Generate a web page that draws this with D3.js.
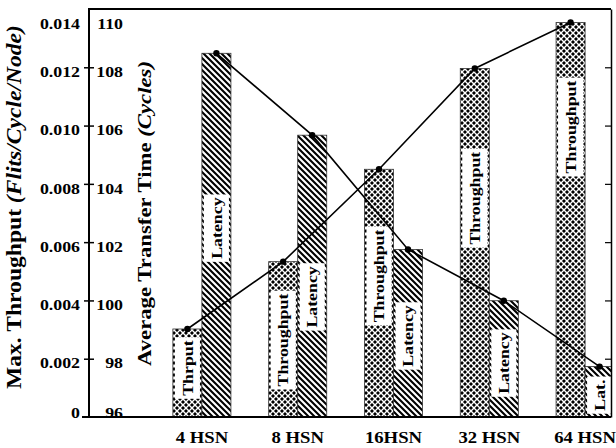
<!DOCTYPE html>
<html>
<head>
<meta charset="utf-8">
<script src="https://cdn.jsdelivr.net/npm/d3@7/dist/d3.min.js"></script>
<style>
  body { margin: 0; background: #fff; }
  svg { display: block; }
  text { font-family: "Liberation Serif", "Times New Roman", Times, serif; font-weight: bold; fill: #000; }
</style>
</head>
<body>
<svg id="chart" width="616" height="448"></svg>
<script>
// ---- data ----
const categories = ["4 HSN", "8 HSN", "16HSN", "32 HSN", "64 HSN"];
const throughput = [0.00302, 0.00533, 0.0085, 0.01196, 0.01354];   // flits/cycle/node
const latency = [108.48, 105.67, 101.75, 99.99, 97.73];             // cycles
const throughputCaptions = ["Thrput", "Throughput", "Throughput", "Throughput", "Throughput"];
const latencyCaptions = ["Latency", "Latency", "Latency", "Latency", "Lat."];
const throughputTicks = [0, 0.002, 0.004, 0.006, 0.008, 0.010, 0.012, 0.014];
const throughputTickLabels = ["0", "0.002", "0.004", "0.006", "0.008", "0.010", "0.012", "0.014"];
const latencyTicks = [96, 98, 100, 102, 104, 106, 108, 110];
const latencyTickLabels = ["96", "98", "100", "102", "104", "106", "108", "110"];
// centre of each in-bar caption, in the units of its own axis
const throughputCaptionAt = [0.00168, 0.00264, 0.00484, 0.00751, 0.00995];
const latencyCaptionAt = [102.48, 100.12, 98.78, 97.85, 96.75];

// ---- layout ----
const X0 = 89, X1 = 611, Y0 = 417, YT = 9;
const svg = d3.select("#chart");

const yT = d3.scaleLinear().domain([0, 0.014]).range([Y0, YT]);
const yL = d3.scaleLinear().domain([96, 110]).range([Y0, YT]);
const x0 = d3.scaleBand().domain(categories).range([154, 633]).paddingInner(0.394).paddingOuter(0.197);
const x1 = d3.scaleBand().domain(["thr", "lat"]).range([0, x0.bandwidth()]);

// widen glyph runs slightly, as the chart's typeface sets wide
function stretch(sel, k) {
  sel.each(function () {
    const w = this.getComputedTextLength();
    this.setAttribute("textLength", w * k);
    this.setAttribute("lengthAdjust", "spacingAndGlyphs");
  });
}

// ---- fill patterns ----
const defs = svg.append("defs");
const weave = defs.append("pattern").attr("id", "weave")
  .attr("width", 6).attr("height", 6).attr("patternUnits", "userSpaceOnUse");
weave.append("rect").attr("width", 6).attr("height", 6).attr("fill", "#000");
weave.append("path").attr("d", "M-1,-1L7,7M-1,5L1,7M5,-1L7,1")
  .attr("stroke", "#fff").attr("stroke-width", 1.4);
weave.append("path").attr("d", "M-1,7L7,-1M-1,1L1,-1M5,7L7,5")
  .attr("stroke", "#fff").attr("stroke-width", 1.4);

const stripes = defs.append("pattern").attr("id", "stripes")
  .attr("width", 6).attr("height", 6).attr("patternUnits", "userSpaceOnUse");
stripes.append("rect").attr("width", 6).attr("height", 6).attr("fill", "#fff");
stripes.append("path").attr("d", "M-1,-1L7,7M-1,5L1,7M5,-1L7,1")
  .attr("stroke", "#000").attr("stroke-width", 2.1);

defs.append("clipPath").attr("id", "plot-clip")
  .append("rect").attr("x", X0).attr("y", YT).attr("width", X1 - X0).attr("height", Y0 - YT);

const plot = svg.append("g").attr("clip-path", "url(#plot-clip)");

// ---- bars ----
const rows = categories.map((c, i) => ({
  c, thr: throughput[i], lat: latency[i],
  thrCap: throughputCaptions[i], latCap: latencyCaptions[i],
  thrAt: throughputCaptionAt[i], latAt: latencyCaptionAt[i]
}));

const bw = x1.bandwidth();
const thrX = d => x0(d.c) + x1("thr");
const latX = d => x0(d.c) + x1("lat");

plot.selectAll("rect.thr").data(rows).join("rect").attr("class", "thr")
  .attr("x", thrX).attr("width", bw)
  .attr("y", d => yT(d.thr)).attr("height", d => Y0 - yT(d.thr))
  .attr("fill", "url(#weave)").attr("stroke", "#333").attr("stroke-width", 0.8);

plot.selectAll("rect.lat").data(rows).join("rect").attr("class", "lat")
  .attr("x", latX).attr("width", bw)
  .attr("y", d => yL(d.lat)).attr("height", d => Y0 - yL(d.lat))
  .attr("fill", "url(#stripes)").attr("stroke", "#333").attr("stroke-width", 0.8);

// ---- captions inside bars ----
function caption(text, cx, cy) {
  const g = plot.append("g").attr("transform", `translate(${cx},${cy}) rotate(-90)`);
  const box = g.append("rect").attr("fill", "#fff");
  const t = g.append("text").attr("text-anchor", "middle").attr("dy", "0.34em")
    .style("font-size", "15.5px").text(text);
  stretch(t, 1.15);
  const len = +t.attr("textLength");
  box.attr("x", -len / 2 - 3).attr("width", len + 6)
    .attr("y", -(bw - 4) / 2).attr("height", bw - 4);
}
rows.forEach(d => {
  caption(d.thrCap, thrX(d) + bw / 2, yT(d.thrAt));
  caption(d.latCap, latX(d) + bw / 2, yL(d.latAt));
});

// ---- lines with markers ----
const thrLine = d3.line().x(d => thrX(d) + bw / 2).y(d => yT(d.thr));
const latLine = d3.line().x(d => latX(d) + bw / 2).y(d => yL(d.lat));
plot.append("path").attr("d", thrLine(rows)).attr("fill", "none").attr("stroke", "#000").attr("stroke-width", 1.6);
plot.append("path").attr("d", latLine(rows)).attr("fill", "none").attr("stroke", "#000").attr("stroke-width", 1.6);
plot.selectAll("circle.thr").data(rows).join("circle").attr("class", "thr")
  .attr("cx", d => thrX(d) + bw / 2).attr("cy", d => yT(d.thr)).attr("r", 3.2).attr("fill", "#000");
plot.selectAll("circle.lat").data(rows).join("circle").attr("class", "lat")
  .attr("cx", d => latX(d) + bw / 2).attr("cy", d => yL(d.lat)).attr("r", 3.2).attr("fill", "#000");

// ---- frame ----
svg.append("line").attr("x1", X0 - 1).attr("x2", X1).attr("y1", YT).attr("y2", YT)
  .attr("stroke", "#000").attr("stroke-width", 2);
svg.append("line").attr("x1", X0 - 7).attr("x2", X1).attr("y1", Y0).attr("y2", Y0)
  .attr("stroke", "#000").attr("stroke-width", 2);
svg.append("line").attr("x1", X0).attr("x2", X0).attr("y1", YT).attr("y2", Y0)
  .attr("stroke", "#000").attr("stroke-width", 2);

const labelY = v => Math.min(Math.max(v + 4, 23), 412);

// left axis: throughput labels, crossing ticks
const gT = svg.append("g").attr("transform", `translate(${X0},0)`)
  .call(d3.axisLeft(yT).tickValues(throughputTicks)
    .tickFormat((d, i) => throughputTickLabels[i]).tickSizeInner(5).tickSizeOuter(0).tickPadding(4));
gT.select(".domain").remove();
gT.selectAll(".tick line").attr("x1", 5).attr("stroke", "#000").attr("stroke-width", 1.5)
  .filter(d => d === 0 || d === 0.014).remove();
gT.selectAll(".tick text").attr("fill", "#000").style("font-size", "15.5px")
  .attr("y", d => labelY(yT(d)) - yT(d)).attr("dy", "0.34em");
stretch(gT.selectAll(".tick text"), 1.15);

// latency labels sit on the same axis, inside the plot
const gL = svg.append("g").attr("transform", `translate(${X0},0)`)
  .call(d3.axisRight(yL).tickValues(latencyTicks)
    .tickFormat((d, i) => latencyTickLabels[i]).tickSize(0));
gL.select(".domain").remove();
gL.selectAll(".tick line").remove();
gL.selectAll(".tick text").attr("fill", "#000").style("font-size", "15.5px")
  .attr("text-anchor", "end").attr("x", 34)
  .attr("y", d => labelY(yL(d)) - yL(d)).attr("dy", "0.34em");
stretch(gL.selectAll(".tick text"), 1.15);

// right frame with inward ticks
const gR = svg.append("g").attr("transform", `translate(${X1},0)`)
  .call(d3.axisLeft(yT).tickValues(throughputTicks).tickFormat("").tickSizeInner(6).tickSizeOuter(0));
gR.select(".domain").attr("stroke", "#000").attr("stroke-width", 1.5);
gR.selectAll(".tick line").attr("stroke", "#000").attr("stroke-width", 1.2)
  .filter(d => d === 0 || d === 0.014).remove();

// category axis
const gX = svg.append("g").attr("transform", `translate(0,${Y0})`)
  .call(d3.axisBottom(x0).tickSize(0));
gX.select(".domain").remove();
gX.selectAll(".tick text").attr("fill", "#000").style("font-size", "17px")
  .attr("y", 26).attr("dy", 0);
stretch(gX.selectAll(".tick text"), 1.1);

// ---- axis titles ----
const t1 = svg.append("text").attr("transform", "translate(21,207) rotate(-90)")
  .attr("text-anchor", "middle").style("font-size", "20.5px");
t1.append("tspan").text("Max. Throughput ");
t1.append("tspan").style("font-style", "italic").text("(Flits/Cycle/Node)");
stretch(t1, 1.15);

const t2 = svg.append("text").attr("transform", "translate(151,213.5) rotate(-90)")
  .attr("text-anchor", "middle").style("font-size", "19.8px");
t2.append("tspan").text("Average Transfer Time ");
t2.append("tspan").style("font-style", "italic").text("(Cycles)");
stretch(t2, 1.15);
</script>
</body>
</html>
